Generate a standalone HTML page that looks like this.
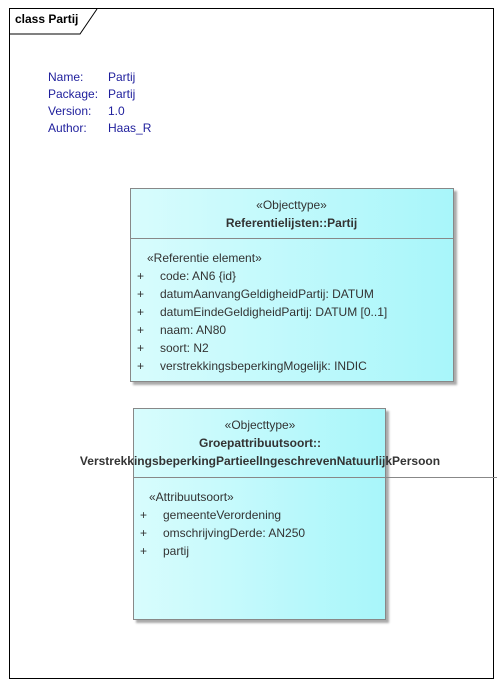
<!DOCTYPE html>
<html><head><style>
body{margin:0;width:501px;height:686px;background:#fff;position:relative;overflow:hidden;font-family:"Liberation Sans",sans-serif;font-size:12px;color:#333}
.a{position:absolute;white-space:nowrap}
.box{position:absolute;border:1px solid #888;background:linear-gradient(to right,#d8fcfd,#a8f6fa);box-shadow:3px 3px 2px #aaa}
.blue{color:#1e1e9c}
</style></head><body>
<div class="a" style="left:9px;top:8px;width:483px;height:669px;border:1px solid #000"></div>
<svg class="a" style="left:0;top:0" width="501" height="686"><polyline points="10,34 80,34 97,9" fill="none" stroke="#000" stroke-width="1"/></svg>
<div class="a" style="left:15px;top:12px;font-size:12px;color:#000;font-weight:bold">class Partij</div>
<div class="a blue" style="left:48px;top:69px;line-height:17px">Name:<br>Package:<br>Version:<br>Author:</div>
<div class="a blue" style="left:108px;top:69px;line-height:17px">Partij<br>Partij<br>1.0<br>Haas_R</div>

<div class="box" style="left:130px;top:188px;width:322px;height:192px"></div>
<div class="a" style="left:130px;top:238px;width:323px;border-top:1px solid #888"></div>
<div class="a" style="left:130px;top:196px;width:323px;text-align:center;line-height:18px">«Objecttype»<br><b>Referentielijsten::Partij</b></div>
<div class="a" style="left:147px;top:249px;line-height:18px">«Referentie element»</div>
<div class="a" style="left:137px;top:267px;line-height:18px">+<br>+<br>+<br>+<br>+<br>+</div>
<div class="a" style="left:160px;top:267px;line-height:18px">code: AN6 {id}<br>datumAanvangGeldigheidPartij: DATUM<br>datumEindeGeldigheidPartij: DATUM [0..1]<br>naam: AN80<br>soort: N2<br>verstrekkingsbeperkingMogelijk: INDIC</div>

<div class="box" style="left:133px;top:408px;width:251px;height:210px"></div>
<div class="a" style="left:133px;top:477px;width:364px;border-top:1px solid #888"></div>
<div class="a" style="left:60px;top:416px;width:400px;text-align:center;line-height:18px">«Objecttype»<br><b>Groepattribuutsoort::</b><br><b>VerstrekkingsbeperkingPartieelIngeschrevenNatuurlijkPersoon</b></div>
<div class="a" style="left:149px;top:488px;line-height:18px">«Attribuutsoort»</div>
<div class="a" style="left:140px;top:506px;line-height:18px">+<br>+<br>+</div>
<div class="a" style="left:163px;top:506px;line-height:18px">gemeenteVerordening<br>omschrijvingDerde: AN250<br>partij</div>
</body></html>
